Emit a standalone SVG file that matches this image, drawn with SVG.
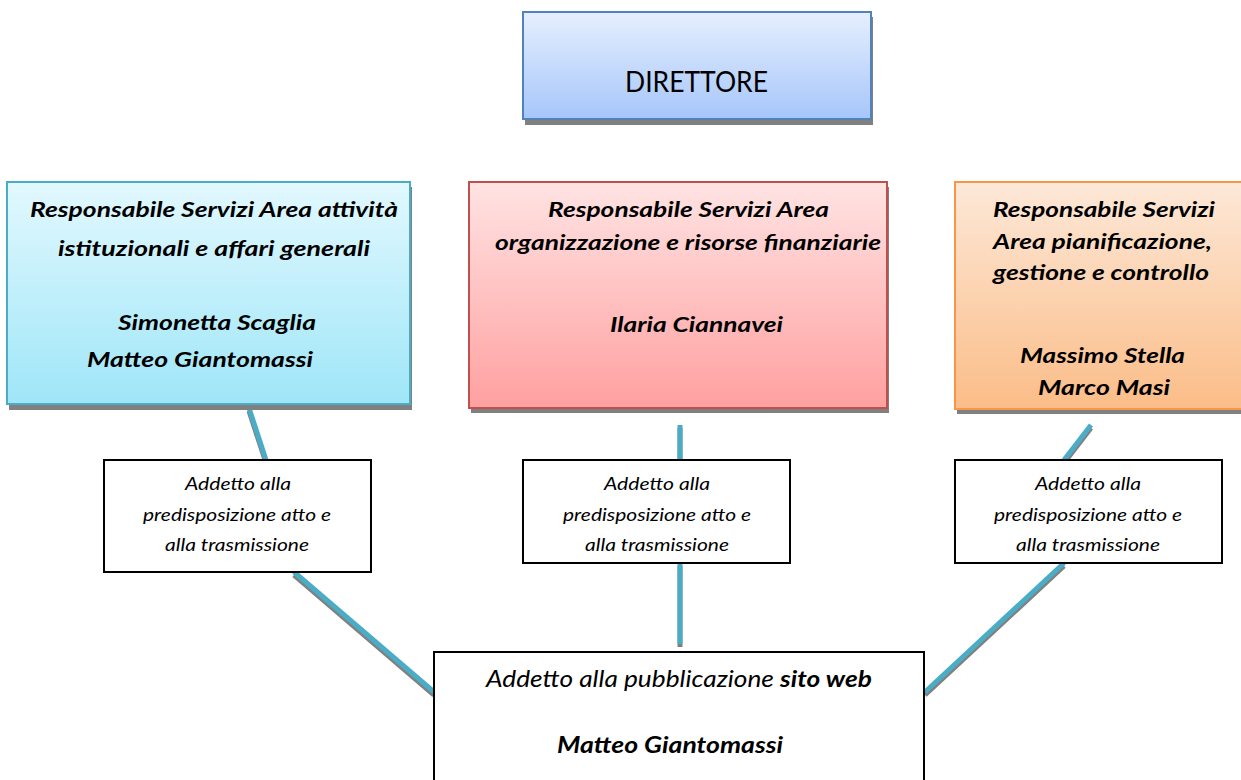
<svg xmlns="http://www.w3.org/2000/svg" width="1241" height="780" viewBox="0 0 1241 780">
<defs>
<linearGradient id="gBlue" x1="0" y1="0" x2="0" y2="1"><stop offset="0" stop-color="#e6effe"/><stop offset="1" stop-color="#a6c6fa"/></linearGradient>
<linearGradient id="gCyan" x1="0" y1="0" x2="0" y2="1"><stop offset="0" stop-color="#e2f8fe"/><stop offset="1" stop-color="#9fe6f8"/></linearGradient>
<linearGradient id="gRed" x1="0" y1="0" x2="0" y2="1"><stop offset="0" stop-color="#ffe3e3"/><stop offset="1" stop-color="#ffa0a0"/></linearGradient>
<linearGradient id="gOrange" x1="0" y1="0" x2="0" y2="1"><stop offset="0" stop-color="#fde8d8"/><stop offset="1" stop-color="#fbbd88"/></linearGradient>
</defs>
<style>
.shadow{fill:#808080}
.bi{font-family:Lato,"Liberation Sans",sans-serif;font-weight:bold;font-style:italic;font-size:21px;fill:#000;text-anchor:middle}
.it{font-family:Lato,"Liberation Sans",sans-serif;font-style:italic;font-size:18px;fill:#000;text-anchor:middle}
.small{fill:#fff;stroke:#000;stroke-width:2}
.conn{stroke:#4bacc6;stroke-width:5;fill:none}
.connS{stroke:#808080;stroke-width:5;fill:none}
</style>
<rect width="1241" height="780" fill="#fff"/>

<g id="connectors">
  <g transform="translate(0,3)">
    <line class="connS" x1="249" y1="408" x2="266" y2="460"/>
    <line class="connS" x1="294" y1="572" x2="434" y2="692"/>
    <line class="connS" x1="680" y1="425" x2="680" y2="460"/>
    <line class="connS" x1="680" y1="563" x2="680" y2="644"/>
    <line class="connS" x1="1091" y1="425" x2="1064" y2="460"/>
    <line class="connS" x1="1064" y1="563" x2="925" y2="692"/>
  </g>
  <line class="conn" x1="249" y1="408" x2="266" y2="460"/>
  <line class="conn" x1="294" y1="572" x2="434" y2="692"/>
  <line class="conn" x1="680" y1="425" x2="680" y2="460"/>
  <line class="conn" x1="680" y1="563" x2="680" y2="644"/>
  <line class="conn" x1="1091" y1="425" x2="1064" y2="460"/>
  <line class="conn" x1="1064" y1="563" x2="925" y2="692"/>
</g>

<g id="direttore">
  <rect class="shadow" x="525" y="17" width="348" height="108"/>
  <rect x="523" y="12" width="348" height="107" fill="url(#gBlue)" stroke="#5082be" stroke-width="2"/>
  <text x="696.5" y="92" font-family="Lato,'Liberation Sans',sans-serif" font-size="29" fill="#000" text-anchor="middle" textLength="143" lengthAdjust="spacingAndGlyphs">DIRETTORE</text>
</g>

<g id="area-istituzionale">
  <rect class="shadow" x="9" y="187" width="403" height="223"/>
  <rect x="7" y="182" width="403" height="222" fill="url(#gCyan)" stroke="#4bacc6" stroke-width="2"/>
  <text class="bi" x="214" y="217" textLength="368" lengthAdjust="spacingAndGlyphs">Responsabile Servizi Area attività</text>
  <text class="bi" x="214" y="256" textLength="312" lengthAdjust="spacingAndGlyphs">istituzionali e affari generali</text>
  <text class="bi" x="217" y="330" textLength="198" lengthAdjust="spacingAndGlyphs">Simonetta Scaglia</text>
  <text class="bi" x="200" y="367" textLength="226" lengthAdjust="spacingAndGlyphs">Matteo Giantomassi</text>
</g>

<g id="area-finanziaria">
  <rect class="shadow" x="471" y="187" width="418" height="226"/>
  <rect x="469" y="182" width="418" height="226" fill="url(#gRed)" stroke="#c0504d" stroke-width="2"/>
  <text class="bi" x="688.5" y="217" textLength="281" lengthAdjust="spacingAndGlyphs">Responsabile Servizi Area</text>
  <text class="bi" x="688" y="250" textLength="386" lengthAdjust="spacingAndGlyphs">organizzazione e risorse finanziarie</text>
  <text class="bi" x="696.5" y="332" textLength="173" lengthAdjust="spacingAndGlyphs">Ilaria Ciannavei</text>
</g>

<g id="area-pianificazione">
  <rect class="shadow" x="957" y="187" width="300" height="227"/>
  <rect x="955" y="182" width="300" height="227" fill="url(#gOrange)" stroke="#f79646" stroke-width="2"/>
  <text class="bi" x="1104" y="217" textLength="222" lengthAdjust="spacingAndGlyphs">Responsabile Servizi</text>
  <text class="bi" x="1102.5" y="249" textLength="219" lengthAdjust="spacingAndGlyphs">Area pianificazione,</text>
  <text class="bi" x="1101" y="280" textLength="216" lengthAdjust="spacingAndGlyphs">gestione e controllo</text>
  <text class="bi" x="1102.5" y="363" textLength="165" lengthAdjust="spacingAndGlyphs">Massimo Stella</text>
  <text class="bi" x="1104" y="395" textLength="132" lengthAdjust="spacingAndGlyphs">Marco Masi</text>
</g>

<g id="addetto-1">
  <rect class="small" x="104" y="460" width="267" height="112"/>
  <text class="it" x="238" y="490" textLength="106" lengthAdjust="spacingAndGlyphs">Addetto alla</text>
  <text class="it" x="237" y="521" textLength="188" lengthAdjust="spacingAndGlyphs">predisposizione atto e</text>
  <text class="it" x="237" y="551" textLength="144" lengthAdjust="spacingAndGlyphs">alla trasmissione</text>
</g>

<g id="addetto-2">
  <rect class="small" x="523" y="460" width="267" height="103"/>
  <text class="it" x="657" y="490" textLength="106" lengthAdjust="spacingAndGlyphs">Addetto alla</text>
  <text class="it" x="657" y="521" textLength="188" lengthAdjust="spacingAndGlyphs">predisposizione atto e</text>
  <text class="it" x="657" y="551" textLength="144" lengthAdjust="spacingAndGlyphs">alla trasmissione</text>
</g>

<g id="addetto-3">
  <rect class="small" x="955" y="460" width="267" height="103"/>
  <text class="it" x="1088" y="490" textLength="106" lengthAdjust="spacingAndGlyphs">Addetto alla</text>
  <text class="it" x="1088" y="521" textLength="188" lengthAdjust="spacingAndGlyphs">predisposizione atto e</text>
  <text class="it" x="1088" y="551" textLength="144" lengthAdjust="spacingAndGlyphs">alla trasmissione</text>
</g>

<g id="pubblicazione">
  <rect class="small" x="434" y="652" width="490" height="150"/>
  <text x="679" y="687" font-family="Lato,'Liberation Sans',sans-serif" font-style="italic" font-size="23" fill="#000" text-anchor="middle" textLength="386" lengthAdjust="spacingAndGlyphs">Addetto alla pubblicazione <tspan font-weight="bold">sito web</tspan></text>
  <text class="bi" x="670" y="753" textLength="226" lengthAdjust="spacingAndGlyphs" style="font-size:23px">Matteo Giantomassi</text>
</g>
</svg>
